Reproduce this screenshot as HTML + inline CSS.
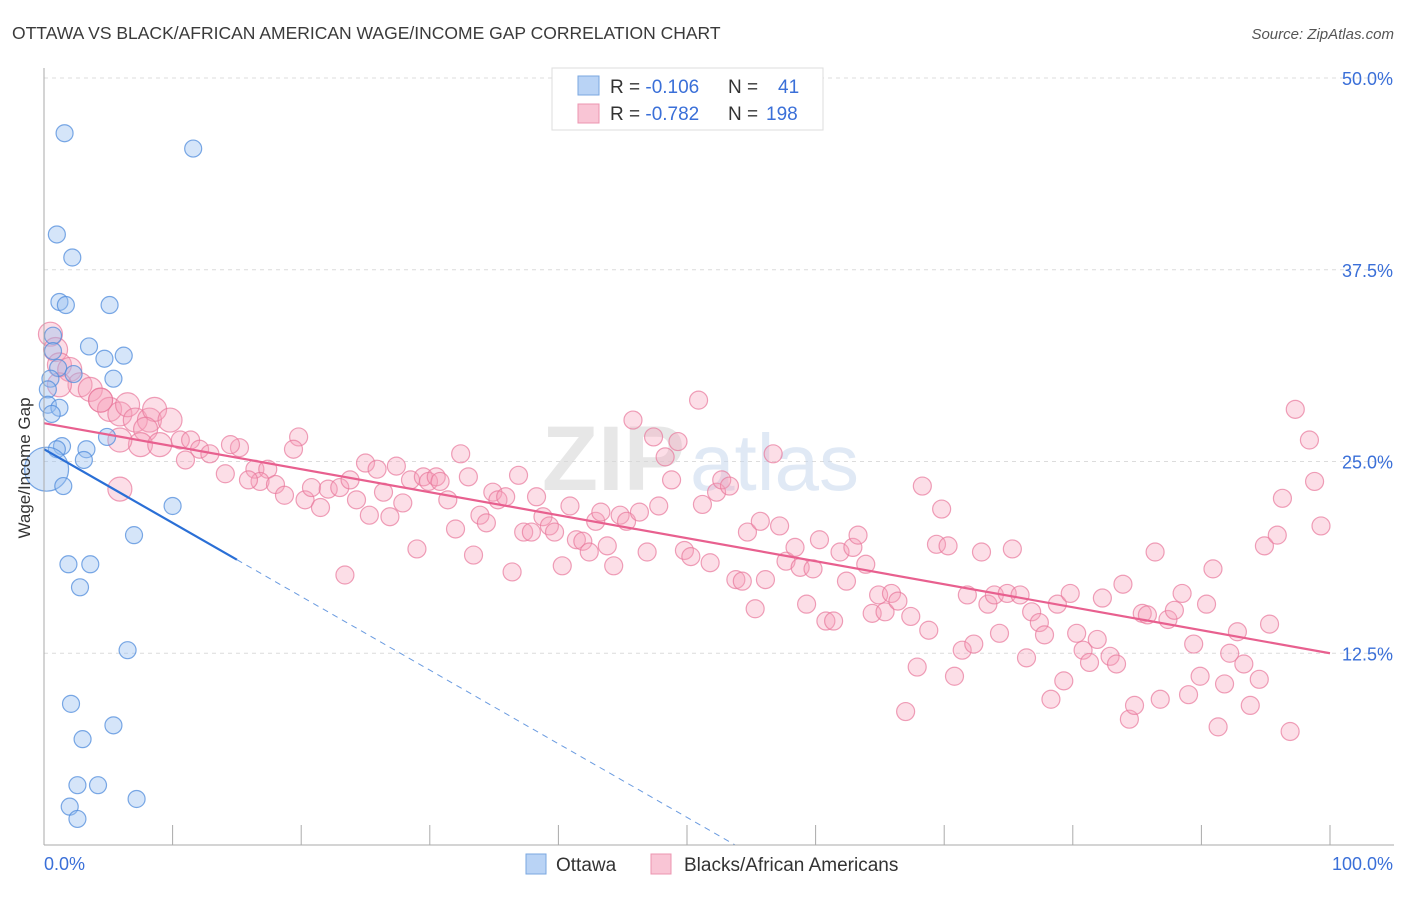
<!DOCTYPE html>
<html><head><meta charset="utf-8"><style>
body{margin:0;background:#fff;font-family:"Liberation Sans",sans-serif;}
svg text{font-family:"Liberation Sans",sans-serif;}
</style></head><body>
<svg id="chart" width="1406" height="892" xmlns="http://www.w3.org/2000/svg">
<text x="12" y="39" font-size="17.5" fill="#3a3a3a">OTTAWA VS BLACK/AFRICAN AMERICAN WAGE/INCOME GAP CORRELATION CHART</text>
<text x="1394" y="39" font-size="15" fill="#555" font-style="italic" text-anchor="end">Source: ZipAtlas.com</text>
<g id="grid"></g>
<text x="685" y="490" font-size="92" fill="#d8d8d8" font-family="Liberation Serif" font-weight="bold" text-anchor="end" opacity="0.6">ZIP</text>
<text x="690" y="490" font-size="80" fill="#c8d8ee" opacity="0.55">atlas</text>
<g id="pink"></g>
<g id="blue"></g>
<g id="trends"></g>
<g id="axes"></g>
<text x="18" y="456" font-size="17" fill="#333" text-anchor="middle" transform="rotate(-90 30 456)">Wage/Income Gap</text>
<g>
<rect x="552" y="68" width="271" height="62" fill="#fff" stroke="#ddd"/>
<rect x="578" y="76" width="21" height="19" fill="#b9d3f5" stroke="#7aa7e0"/>
<rect x="578" y="104" width="21" height="19" fill="#f9c5d5" stroke="#ec95b0"/>
<text x="610" y="93" font-size="19" fill="#333">R = <tspan fill="#3a6fd8">-0.106</tspan><tspan x="728">N = </tspan><tspan x="778" fill="#3a6fd8">41</tspan></text>
<text x="610" y="120" font-size="19" fill="#333">R = <tspan fill="#3a6fd8">-0.782</tspan><tspan x="728">N = </tspan><tspan x="766" fill="#3a6fd8">198</tspan></text>
</g>
<g>
<rect x="526" y="854" width="20" height="20" fill="#b9d3f5" stroke="#7aa7e0"/>
<text x="556" y="871" font-size="19" fill="#333">Ottawa</text>
<rect x="651" y="854" width="20" height="20" fill="#f9c5d5" stroke="#ec95b0"/>
<text x="684" y="871" font-size="19" fill="#333">Blacks/African Americans</text>
</g>
</svg>
<script>
const yTicks=[12.5,25,37.5,50];
const yTickLabels=["12.5%","25.0%","37.5%","50.0%"];
const xTickCount=10;
const blueX=[1.6,11.6,1.0,2.2,1.2,1.7,5.1,0.7,0.7,3.5,6.2,4.7,1.1,2.3,5.4,0.5,0.3,0.3,1.2,0.6,4.9,1.4,3.3,1.0,3.1,0.2,1.5,10.0,7.0,1.9,3.6,2.8,6.5,2.1,5.4,3.0,2.6,4.2,7.2,2.0,2.6];
const blueY=[46.4,45.4,39.8,38.3,35.4,35.2,35.2,33.2,32.2,32.5,31.9,31.7,31.1,30.7,30.4,30.4,29.7,28.7,28.5,28.1,26.6,26.0,25.8,25.8,25.1,24.5,23.4,22.1,20.2,18.3,18.3,16.8,12.7,9.2,7.8,6.9,3.9,3.9,3.0,2.5,1.7];
const pinkX=[0.5,0.9,1.2,2.0,2.8,3.6,4.4,5.1,5.9,6.5,7.1,8.2,8.6,9.8,7.9,7.5,5.9,9.0,10.6,11.4,12.1,12.9,11.0,14.1,15.2,14.5,16.4,17.4,16.8,15.9,18.0,18.7,19.8,19.4,20.3,20.8,21.5,22.1,23.0,23.8,24.3,25.0,25.3,25.9,26.4,26.9,27.4,27.9,28.5,29.0,29.5,29.9,30.5,30.8,31.4,32.0,32.4,33.0,33.4,33.9,34.4,34.9,35.3,35.9,36.4,36.9,37.3,37.9,38.3,38.8,39.3,39.7,40.3,40.9,41.4,41.9,42.4,42.9,43.3,43.8,44.3,44.8,45.3,45.8,46.3,46.9,47.4,47.8,48.3,48.8,49.3,49.8,50.3,50.9,51.2,51.8,52.3,52.7,53.3,53.8,54.3,54.7,55.3,55.7,56.1,56.7,57.2,57.7,58.4,58.8,59.3,59.8,60.3,60.8,61.4,61.9,62.4,62.9,63.3,63.9,64.4,64.9,65.4,65.9,66.4,67.0,67.4,67.9,68.3,68.8,69.4,69.8,70.3,70.8,71.4,71.8,72.3,72.9,73.4,73.9,74.3,74.9,75.3,75.9,76.4,76.8,77.4,77.8,78.3,78.8,79.3,79.8,80.3,80.8,81.3,81.9,82.3,82.9,83.4,83.9,84.4,84.8,85.4,85.8,86.4,86.8,87.4,87.9,88.5,89.0,89.4,89.9,90.4,90.9,91.3,91.8,92.2,92.8,93.3,93.8,94.5,94.9,95.3,95.9,96.3,96.9,97.3,98.4,98.8,99.3,5.9,23.4,1.2,4.4];
const pinkY=[33.3,32.3,31.3,31.0,30.0,29.7,29.0,28.4,28.1,28.7,27.7,27.7,28.4,27.7,27.1,26.1,26.4,26.1,26.4,26.4,25.8,25.5,25.1,24.2,25.9,26.1,24.5,24.5,23.7,23.8,23.5,22.8,26.6,25.8,22.5,23.3,22.0,23.2,23.3,23.8,22.5,24.9,21.5,24.5,23.0,21.4,24.7,22.3,23.8,19.3,24.0,23.7,24.0,23.7,22.5,20.6,25.5,24.0,18.9,21.5,21.0,23.0,22.5,22.7,17.8,24.1,20.4,20.4,22.7,21.4,20.8,20.4,18.2,22.1,19.9,19.8,19.1,21.1,21.7,19.5,18.2,21.5,21.1,27.7,21.7,19.1,26.6,22.1,25.3,23.8,26.3,19.2,18.8,29.0,22.2,18.4,23.0,23.8,23.4,17.3,17.2,20.4,15.4,21.1,17.3,25.5,20.8,18.5,19.4,18.1,15.7,18.0,19.9,14.6,14.6,19.1,17.2,19.4,20.2,18.3,15.1,16.3,15.2,16.4,15.9,8.7,14.9,11.6,23.4,14.0,19.6,21.9,19.5,11.0,12.7,16.3,13.1,19.1,15.7,16.3,13.8,16.4,19.3,16.3,12.2,15.2,14.5,13.7,9.5,15.7,10.7,16.4,13.8,12.7,11.9,13.4,16.1,12.3,11.8,17.0,8.2,9.1,15.1,15.0,19.1,9.5,14.7,15.3,16.4,9.8,13.1,11.0,15.7,18.0,7.7,10.5,12.5,13.9,11.8,9.1,10.8,19.5,14.4,20.2,22.6,7.4,28.4,26.4,23.7,20.8,23.2,17.6,30.0,29.0];
const pinkTrend=[27.5,12.5];
const blueTrend=[25.8,-0.48];
const blueSolidEnd=15;

const NS="http://www.w3.org/2000/svg";
const X0=44,X1=1330,Y0=845,Y50=78;
function sx(v){return X0+(X1-X0)*v/100;}
function sy(v){return Y0-(Y0-Y50)*v/50;}
function mk(tag,attrs,parent){const e=document.createElementNS(NS,tag);for(const k in attrs)e.setAttribute(k,attrs[k]);parent.appendChild(e);return e;}
const grid=document.getElementById('grid'),axes=document.getElementById('axes');
yTicks.forEach((t,i)=>{
  const l=mk('line',{x1:X0,x2:1394,y1:sy(t),y2:sy(t),stroke:'#dcdcdc','stroke-dasharray':'4,4'},grid);
  
  
  const tx=mk('text',{x:1393,y:sy(t)+7,'font-size':18,fill:'#3a6fd8','text-anchor':'end'},axes);
  tx.textContent=yTickLabels[i];
  
  
});
const ax=mk('line',{x1:X0,x2:X0,y1:68,y2:Y0,stroke:'#aaa'},axes);


const bx=mk('line',{x1:X0,x2:1394,y1:Y0,y2:Y0,stroke:'#aaa'},axes);


for(let i=0;i<=xTickCount;i++){
  const t=mk('line',{x1:sx(i*10),x2:sx(i*10),y1:Y0-20,y2:Y0,stroke:'#aaa'},axes);
  
  
}
const l0=mk('text',{x:44,y:870,'font-size':18,fill:'#3a6fd8'},axes);l0.textContent='0.0%';


const l1=mk('text',{x:1393,y:870,'font-size':18,fill:'#3a6fd8','text-anchor':'end'},axes);l1.textContent='100.0%';


const pg=document.getElementById('pink');
pinkX.forEach((x,i)=>{
  const r=x<10?12:9;
  const c=mk('circle',{cx:sx(x),cy:sy(pinkY[i]),r:r,fill:'rgba(245,160,185,0.35)',stroke:'rgba(232,120,155,0.7)','stroke-width':1.2},pg);
  
  
});
const bg=document.getElementById('blue');
blueX.forEach((x,i)=>{
  const r=(x<0.3&&blueY[i]>24&&blueY[i]<25)?22:8.5;
  const c=mk('circle',{cx:sx(x),cy:sy(blueY[i]),r:r,fill:'rgba(150,190,240,0.4)',stroke:'rgba(80,140,220,0.75)','stroke-width':1.2},bg);
  
  
});
const tg=document.getElementById('trends');
const pl=mk('line',{x1:sx(0),y1:sy(pinkTrend[0]),x2:sx(100),y2:sy(pinkTrend[1]),stroke:'#e8608f','stroke-width':2.2},tg);


const bl=mk('line',{x1:sx(0),y1:sy(blueTrend[0]),x2:sx(blueSolidEnd),y2:sy(blueTrend[0]+blueTrend[1]*blueSolidEnd),stroke:'#2a6fd6','stroke-width':2.2},tg);


const xz=-blueTrend[0]/blueTrend[1];
const bd=mk('line',{x1:sx(blueSolidEnd),y1:sy(blueTrend[0]+blueTrend[1]*blueSolidEnd),x2:sx(xz),y2:sy(0),stroke:'#6a9be0','stroke-width':1,'stroke-dasharray':'6,5'},tg);


</script>
</body></html>
